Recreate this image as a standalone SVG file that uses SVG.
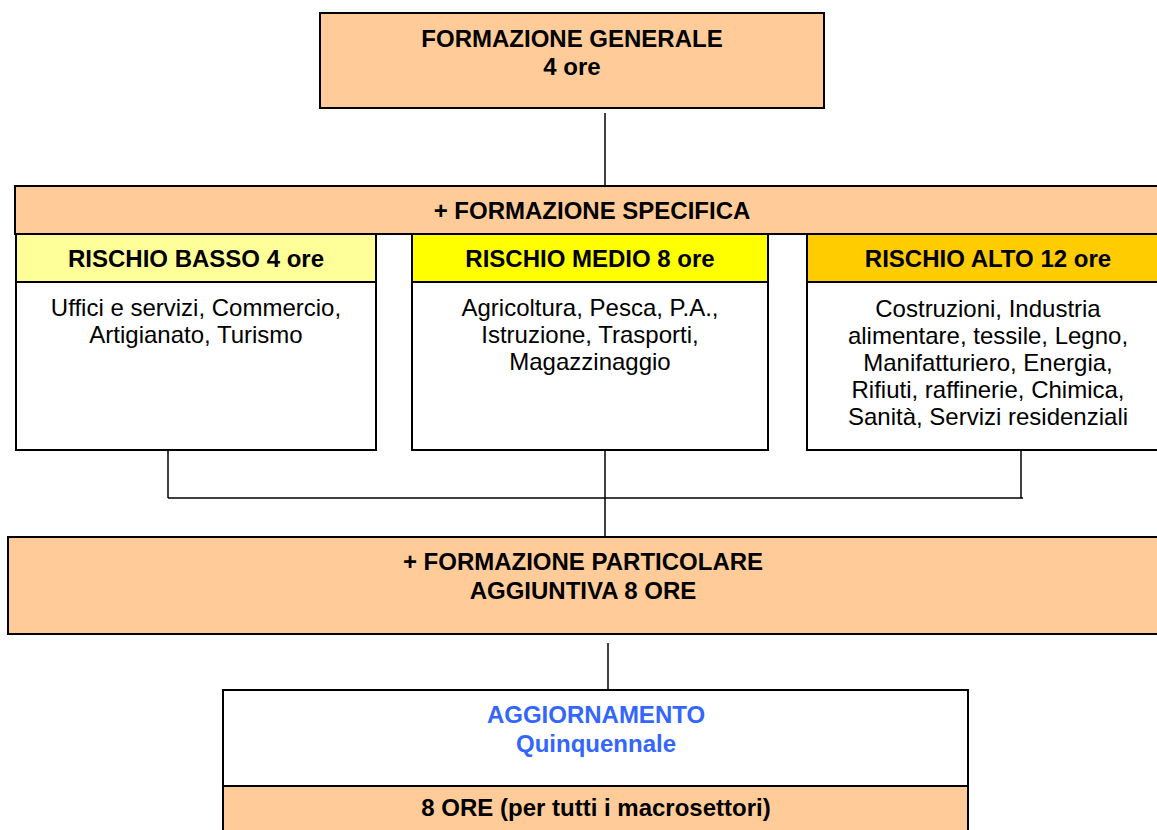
<svg xmlns="http://www.w3.org/2000/svg" width="1157" height="830" viewBox="0 0 1157 830">
<style>
.box{stroke:#000;stroke-width:2}
.peach{fill:#FFCC99}
.white{fill:#fff}
.b{font-family:"Liberation Sans",Arial,sans-serif;font-weight:bold;font-size:24px;text-anchor:middle;fill:#000}
.r{font-family:"Liberation Sans",Arial,sans-serif;font-size:24px;text-anchor:middle;fill:#000}
.blue{fill:#3366FF}
.conn{stroke:#000;stroke-width:1.5;fill:none}
</style>
<rect width="1157" height="830" fill="#fff"/>
<g id="connectors">
<line class="conn" x1="605" y1="113" x2="605" y2="186"/>
<line class="conn" x1="168" y1="450" x2="168" y2="498"/>
<line class="conn" x1="1021" y1="450" x2="1021" y2="498"/>
<line class="conn" x1="168" y1="498" x2="1023" y2="498" stroke-width="2"/>
<line class="conn" x1="605" y1="450" x2="605" y2="537"/>
<line class="conn" x1="608" y1="643" x2="608" y2="690"/>
</g>
<g id="generale">
<rect class="box peach" x="320" y="13" width="504" height="95"/>
<text class="b" x="572" y="47">FORMAZIONE GENERALE</text>
<text class="b" x="572" y="75">4 ore</text>
</g>
<g id="specifica">
<rect class="box peach" x="15" y="186" width="1150" height="48"/>
<text class="b" x="592" y="219">+ FORMAZIONE SPECIFICA</text>
</g>
<g id="basso">
<rect class="box" fill="#FFFF99" x="16" y="234" width="360" height="48"/>
<text class="b" x="196" y="267">RISCHIO BASSO 4 ore</text>
<rect class="box white" x="16" y="282" width="360" height="168"/>
<text class="r" x="196" y="316">Uffici e servizi, Commercio,</text>
<text class="r" x="196" y="343">Artigianato, Turismo</text>
</g>
<g id="medio">
<rect class="box" fill="#FFFF00" x="412" y="234" width="356" height="48"/>
<text class="b" x="590" y="267">RISCHIO MEDIO 8 ore</text>
<rect class="box white" x="412" y="282" width="356" height="168"/>
<text class="r" x="590" y="316">Agricoltura, Pesca, P.A.,</text>
<text class="r" x="590" y="343">Istruzione, Trasporti,</text>
<text class="r" x="590" y="370">Magazzinaggio</text>
</g>
<g id="alto">
<rect class="box" fill="#FFCC00" x="807" y="234" width="360" height="48"/>
<text class="b" x="988" y="267">RISCHIO ALTO 12 ore</text>
<rect class="box white" x="807" y="282" width="360" height="168"/>
<text class="r" x="988" y="317">Costruzioni, Industria</text>
<text class="r" x="988" y="344">alimentare, tessile, Legno,</text>
<text class="r" x="988" y="371">Manifatturiero, Energia,</text>
<text class="r" x="988" y="398">Rifiuti, raffinerie, Chimica,</text>
<text class="r" x="988" y="425">Sanità, Servizi residenziali</text>
</g>
<g id="particolare">
<rect class="box peach" x="8" y="537" width="1160" height="97"/>
<text class="b" x="583" y="570">+ FORMAZIONE PARTICOLARE</text>
<text class="b" x="583" y="599">AGGIUNTIVA 8 ORE</text>
</g>
<g id="aggiornamento">
<rect class="box white" x="223" y="690" width="745" height="96"/>
<text class="b blue" x="596" y="723">AGGIORNAMENTO</text>
<text class="b blue" x="596" y="752">Quinquennale</text>
<rect class="box peach" x="223" y="786" width="745" height="50"/>
<text class="b" x="596" y="816">8 ORE (per tutti i macrosettori)</text>
</g>
</svg>
